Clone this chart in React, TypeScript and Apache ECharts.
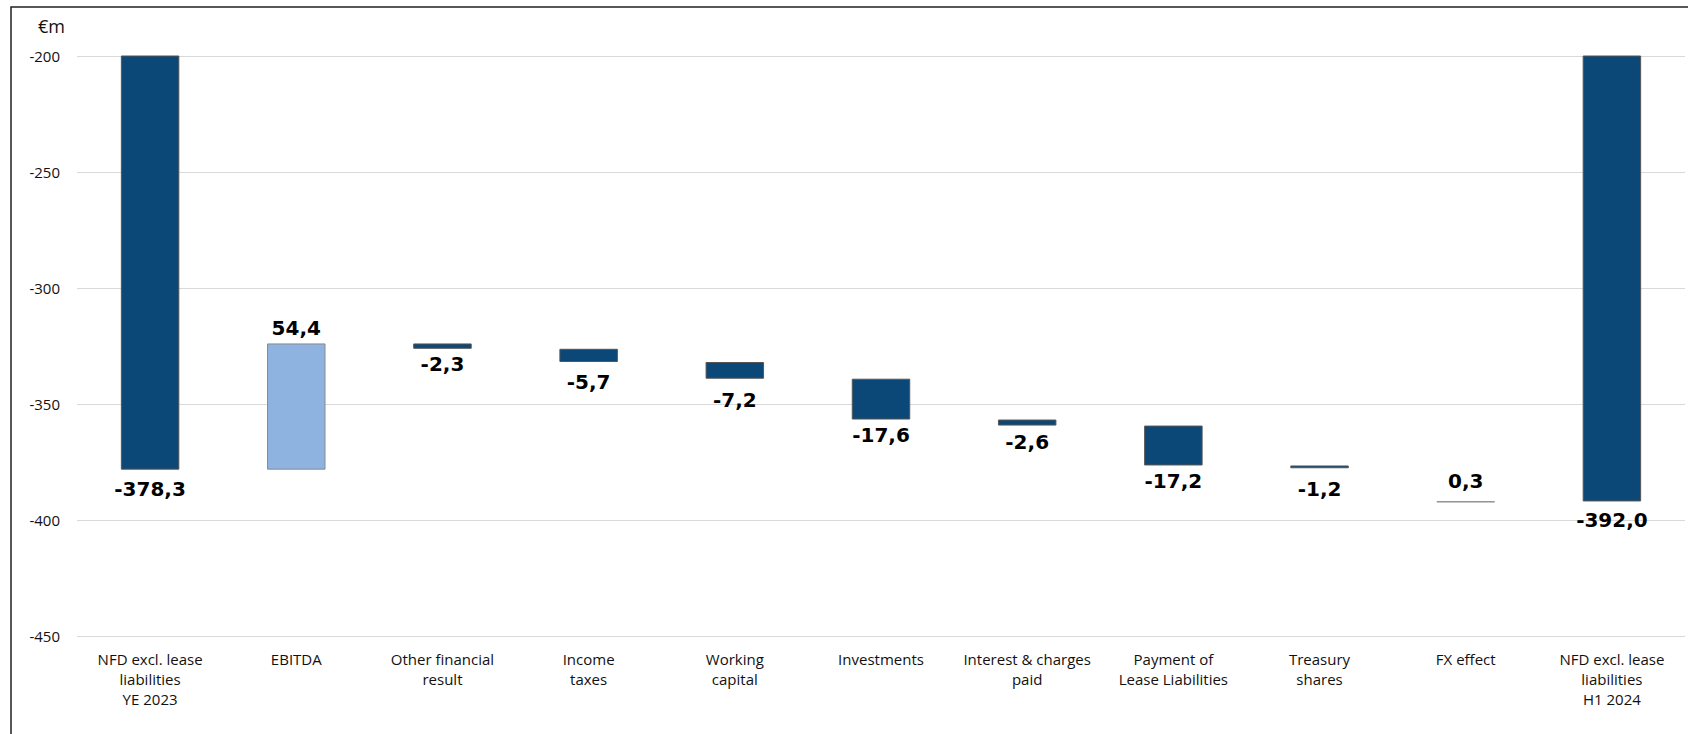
import React, { useEffect, useRef } from "react";
import * as echarts from "echarts";

const categories = [
  "NFD excl. lease\nliabilities\nYE 2023",
  "EBITDA",
  "Other financial\nresult",
  "Income\ntaxes",
  "Working\ncapital",
  "Investments",
  "Interest & charges\npaid",
  "Payment of\nLease Liabilities",
  "Treasury\nshares",
  "FX effect",
  "NFD excl. lease\nliabilities\nH1 2024",
];
// value shown on each bar (€m)
const changes = [-378.3, 54.4, -2.3, -5.7, -7.2, -17.6, -2.6, -17.2, -1.2, 0.3, -392.0];
// upper edge of each floating bar (null for the two totals, drawn from 0)
const floatTop = [null, -323.9, -323.9, -326.2, -331.9, -339.1, -356.7, -359.3, -376.5, -392.0, null];
const kinds = ["total", "up", "down", "down", "down", "down", "down", "down", "down", "fx", "total"];
const yTicks = { min: -450, max: -200, interval: 50 };

// styling (not data)
const labelGaps = [9, 5, 5, 10, 11, 5, 6, 6, 11, 10, 9];
const fills: Record<string, string> = { total: "#0B4877", down: "#0B4877", up: "#8EB3E1", fx: "#8C8C8C" };
const borders: Record<string, string> = { total: "#555555", down: "#555555", up: "#8A8A8A", fx: "#8C8C8C" };

const fmt = (v: number) => v.toFixed(1).replace(".", ",");

export default function App() {
  const ref = useRef<HTMLDivElement>(null);
  useEffect(() => {
    document.body.style.margin = "0";
    if (!ref.current) return;
    const chart = echarts.init(ref.current, null, { renderer: "svg" });
    const baseData = floatTop.map((v) => (v === null ? "-" : v));
    const deltaData = changes.map((c, i) => {
      const k = kinds[i];
      const value = k === "total" ? c : -Math.abs(c);
      const above = k === "up" || k === "fx";
      return {
        value,
        itemStyle: { color: fills[k], borderColor: borders[k], borderWidth: 1 },
        label: {
          show: true,
          position: above ? "top" : "bottom",
          distance: labelGaps[i],
          formatter: () => fmt(c),
        },
      };
    });
    chart.setOption({
      animation: false,
      grid: { left: 77, right: 3, top: 56, bottom: 98, containLabel: false },
      xAxis: {
        type: "category",
        data: categories,
        axisLine: { show: false },
        axisTick: { show: false },
        axisLabel: {
          interval: 0,
          fontFamily: "Open Sans",
          fontSize: 15,
          lineHeight: 20,
          color: "#111",
          margin: 13,
        },
      },
      yAxis: {
        type: "value",
        min: yTicks.min,
        max: yTicks.max,
        interval: yTicks.interval,
        axisLine: { show: false },
        axisTick: { show: false },
        axisLabel: { fontFamily: "Open Sans", fontSize: 15, color: "#111", margin: 17 },
        splitLine: { lineStyle: { color: "#D9D9D9", width: 1 } },
      },
      series: [
        {
          type: "bar",
          stack: "w",
          data: baseData,
          barWidth: "40%",
          itemStyle: { color: "transparent" },
          silent: true,
        },
        {
          type: "bar",
          stack: "w",
          data: deltaData,
          barWidth: "40%",
          label: {
            fontFamily: "DejaVu Sans",
            fontWeight: "bold",
            fontSize: 20,
            color: "#000",
          },
        },
      ],
      graphic: [
        {
          type: "rect",
          shape: { x: 11, y: 7, width: 1800, height: 900 },
          style: { fill: "none", stroke: "#222", lineWidth: 1.5 },
          silent: true,
        },
        {
          type: "text",
          left: 38,
          top: 17,
          style: { text: "€m", fontFamily: "Open Sans", fontSize: 18, fill: "#111" },
        },
      ],
    });
    return () => chart.dispose();
  }, []);
  return <div ref={ref} style={{ width: 1688, height: 734 }} />;
}
